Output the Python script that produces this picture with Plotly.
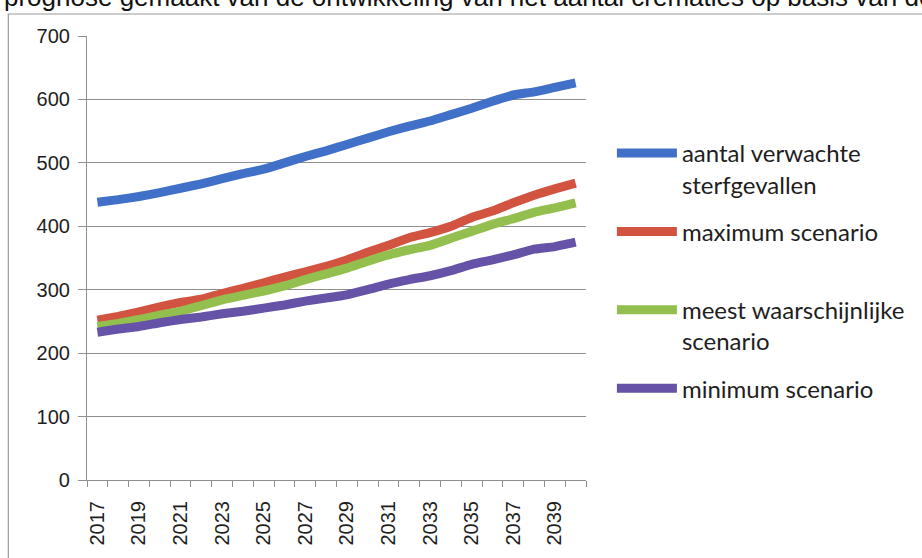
import plotly.graph_objects as go

years = list(range(2017, 2041))
tick_years = list(range(2017, 2040, 2))
tick_labels = [str(y) for y in tick_years]

series_names = [
    "aantal verwachte<br>sterfgevallen",
    "maximum scenario<br>&nbsp;",
    "meest waarschijnlijke<br>scenario",
    "minimum scenario<br>&nbsp;",
]
verwachte_sterfgevallen = [438, 442, 447, 453, 460, 467, 475, 483, 490, 500, 510, 519,
                           529, 539, 549, 558, 566, 576, 586, 597, 607, 612, 619, 626]
maximum_scenario = [252, 258, 265, 273, 280, 285, 294, 302, 311, 320, 328, 337,
                    347, 359, 370, 382, 390, 400, 414, 424, 437, 449, 459, 468]
meest_waarschijnlijk = [242, 247, 253, 260, 266, 275, 284, 291, 298, 306, 316, 325,
                        334, 345, 355, 363, 370, 381, 392, 403, 412, 422, 429, 437]
minimum_scenario = [233, 238, 242, 248, 253, 257, 262, 266, 271, 276, 282, 287,
                    292, 300, 309, 316, 322, 330, 340, 347, 355, 364, 368, 375]

colors = ["#4170C8", "#D25440", "#93BF4E", "#6652A6"]
all_series = [verwachte_sterfgevallen, maximum_scenario, meest_waarschijnlijk, minimum_scenario]

fig = go.Figure()
for i, (name, vals, col) in enumerate(zip(series_names, all_series, colors)):
    fig.add_trace(go.Scatter(
        x=years, y=vals, mode="lines", name=name,
        line=dict(color=col, width=9, shape="spline", smoothing=0.4),
        legendgroup=f"g{i}",
    ))

grid = "#8f8f8f"
W, H = 922, 558
L, R, T, B = 87, 334, 36, 77.5
pw, ph = W - L - R, H - T - B


def px_x(p):
    return (p - L) / pw


def px_y(p):
    return (H - B - p) / ph


fig.update_layout(
    width=W, height=H,
    margin=dict(l=L, r=R, t=T, b=B, pad=0),
    paper_bgcolor="white", plot_bgcolor="white",
    font=dict(family="Liberation Sans, Arial, sans-serif", size=20, color="#1e1e1e"),
    showlegend=True,
    legend=dict(
        x=px_x(614), y=px_y(131), xanchor="left", yanchor="top",
        font=dict(family="Lato, Calibri, sans-serif", size=24, color="#1e1e1e"),
        tracegroupgap=13, valign="top", itemwidth=60,
        bgcolor="rgba(0,0,0,0)",
    ),
    xaxis=dict(
        range=[2016.5, 2040.5],
        tickmode="array", tickvals=tick_years, ticktext=tick_labels,
        tickangle=-90, ticks="outside", ticklen=6, tickcolor="rgba(0,0,0,0)",
        ticklabelstandoff=6,
        showgrid=False, zeroline=False,
        showline=True, linecolor=grid, linewidth=1.2,
        minor=dict(tickvals=[2016.5 + k for k in range(25)], ticks="outside",
                   ticklen=6, tickcolor=grid, tickwidth=1.2, showgrid=False),
        tickfont=dict(family="Liberation Sans, Arial, sans-serif", size=20, color="#1e1e1e"),
    ),
    yaxis=dict(
        range=[0, 700], tickmode="array", tickvals=list(range(0, 701, 100)),
        ticks="outside", ticklen=8, tickcolor=grid, tickwidth=1.2,
        showgrid=True, gridcolor=grid, gridwidth=1.2,
        zeroline=False, showline=True, linecolor=grid, linewidth=1.2,
        ticklabelstandoff=4,
        tickfont=dict(family="Liberation Sans, Arial, sans-serif", size=20, color="#1e1e1e"),
    ),
    shapes=[
        dict(type="rect", xref="paper", yref="paper",
             x0=px_x(8), x1=px_x(940), y0=px_y(575), y1=px_y(14),
             line=dict(color="#9a9a9a", width=1.2), fillcolor="rgba(0,0,0,0)", layer="below"),
    ],
    annotations=[
        dict(text="prognose gemaakt van de ontwikkeling van het aantal crematies op basis van de",
             xref="paper", yref="paper", x=px_x(2), y=px_y(14), xanchor="left", yanchor="bottom",
             showarrow=False, align="left",
             font=dict(family="Liberation Sans, Arial, sans-serif", size=26, color="#111111")),
    ],
)

fig.write_html(
    "out.html",
    config={"displayModeBar": False},
    post_script="document.body.style.margin='0';document.body.style.padding='0';",
)
